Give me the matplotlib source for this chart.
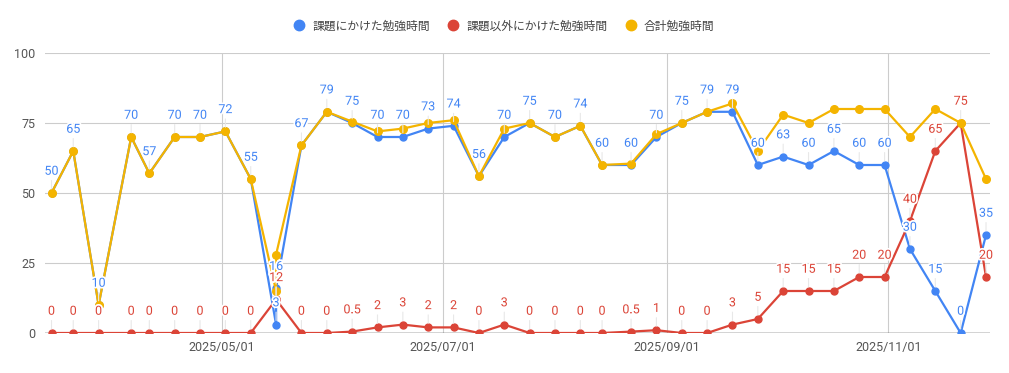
import matplotlib
matplotlib.use("Agg")
import matplotlib.pyplot as plt
import matplotlib.dates as mdates
import matplotlib.patheffects as pe
from matplotlib.lines import Line2D
import datetime as dt

plt.rcParams['font.family'] = ['Roboto', 'Noto Sans CJK JP', 'DejaVu Sans']

dates = ['2025-03-15', '2025-03-21', '2025-03-28', '2025-04-06', '2025-04-11',
         '2025-04-18', '2025-04-25', '2025-05-02', '2025-05-09', '2025-05-16',
         '2025-05-16', '2025-05-23', '2025-05-30', '2025-06-06', '2025-06-13',
         '2025-06-20', '2025-06-27', '2025-07-04', '2025-07-11', '2025-07-18',
         '2025-07-25', '2025-08-01', '2025-08-08', '2025-08-14', '2025-08-22',
         '2025-08-29', '2025-09-05', '2025-09-12', '2025-09-19', '2025-09-26',
         '2025-10-03', '2025-10-10', '2025-10-17', '2025-10-24', '2025-10-31',
         '2025-11-07', '2025-11-14', '2025-11-21', '2025-11-28']
task_time = [50, 65, 10, 70, 57, 70, 70, 72, 55, 3, 16, 67, 79, 75, 70, 70, 73, 74,
             56, 70, 75, 70, 74, 60, 60, 70, 75, 79, 79, 60, 63, 60, 65, 60, 60,
             30, 15, 0, 35]
other_time = [0, 0, 0, 0, 0, 0, 0, 0, 0, 12, 12, 0, 0, 0.5, 2, 3, 2, 2, 0, 3, 0,
              0, 0, 0, 0.5, 1, 0, 0, 3, 5, 15, 15, 15, 20, 20, 40, 65, 75, 20]
total_time = [50, 65, 10, 70, 57, 70, 70, 72, 55, 15, 28, 67, 79, 75.5, 72, 73, 75,
              76, 56, 73, 75, 70, 74, 60, 60.5, 71, 75, 79, 82, 65, 78, 75, 80, 80,
              80, 70, 80, 75, 55]
series_names = ['課題にかけた勉強時間', '課題以外にかけた勉強時間', '合計勉強時間']
x_ticks = ['2025-05-01', '2025-07-01', '2025-09-01', '2025-11-01']
y_ticks = [0, 25, 50, 75, 100]

BLUE, RED, YELLOW = '#4285F4', '#DB4437', '#F4B400'

x = [dt.datetime.strptime(d, '%Y-%m-%d') for d in dates]
xt = [dt.datetime.strptime(d, '%Y-%m-%d') for d in x_ticks]

fig = plt.figure(figsize=(10.09, 3.73), dpi=100)
ax = fig.add_axes([45/1009, 40/373, 945/1009, 280/373])

for s in ax.spines.values():
    s.set_visible(False)

ax.set_ylim(0, 100)
base = mdates.date2num(dt.datetime(2025, 5, 1))
ax.set_xlim(base - 48.8, base + 212.1)
ax.set_yticks(y_ticks)
ax.set_xticks(xt)
ax.xaxis.set_major_formatter(mdates.DateFormatter('%Y/%m/%d'))
ax.grid(True, color='#cccccc', lw=0.8)
ax.set_axisbelow(True)
ax.tick_params(length=0, labelsize=9, colors='#555555')
ax.tick_params(axis='y', pad=7)
ax.tick_params(axis='x', pad=6)
ax.axhline(0, color='#333333', lw=1.0, zorder=2)

ax.plot(x, task_time, color=BLUE, lw=1.6, marker='o', ms=5, zorder=3)
ax.plot(x, other_time, color=RED, lw=1.6, marker='o', ms=5, zorder=4)
ax.plot(x, total_time, color=YELLOW, lw=1.6, marker='o', ms=5.5, zorder=5)

halo = [pe.withStroke(linewidth=2.5, foreground='white')]
for series, col in ((task_time, BLUE), (other_time, RED)):
    for xi, v in zip(x, series):
        lab = ('%g' % v)
        ax.annotate(lab, (xi, v), xytext=(0, 11), textcoords='offset points',
                    ha='center', va='bottom', fontsize=9, color=col, zorder=7,
                    path_effects=halo,
                    arrowprops=dict(arrowstyle='-', color='#e8e8e8', lw=0.8,
                                    shrinkA=0, shrinkB=3, relpos=(0.5, 0)))

handles = [Line2D([], [], color=c, marker='o', ls='none', ms=7.5)
           for c in (BLUE, RED, YELLOW)]
leg = fig.legend(handles, series_names, loc='center',
                 bbox_to_anchor=(0.5, 1 - 26/373), ncol=3, frameon=False,
                 handlelength=0.8, handletextpad=0.7, columnspacing=1.6,
                 fontsize=8.5)
for t in leg.get_texts():
    t.set_color('#444444')

fig.savefig('out.png', dpi=100)
